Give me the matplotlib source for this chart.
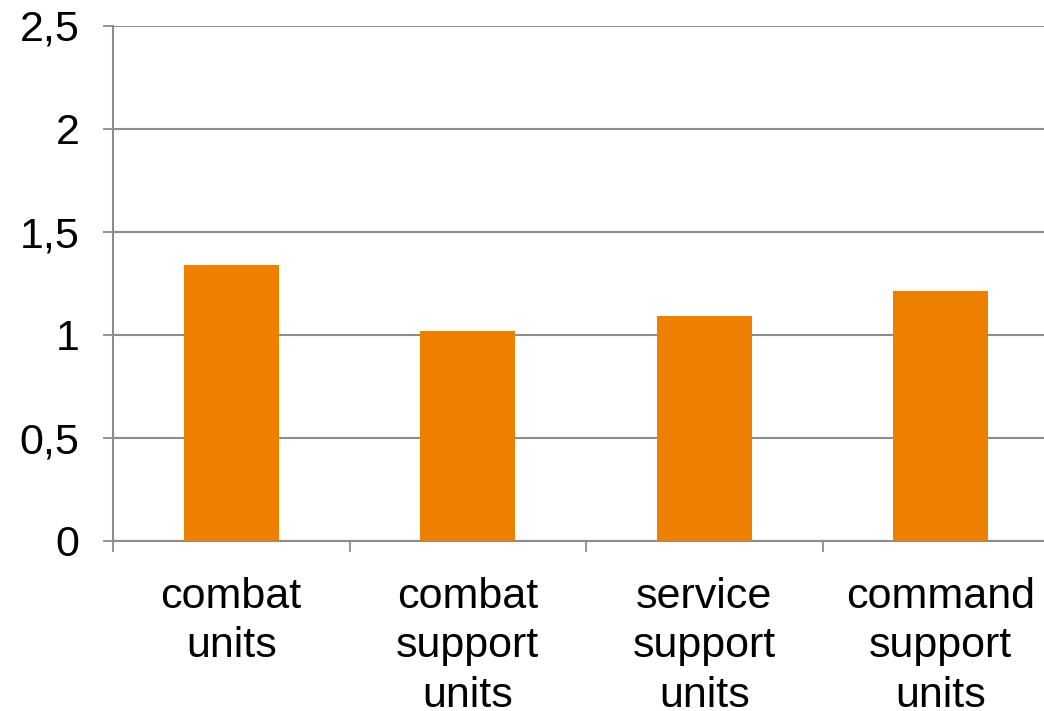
import matplotlib
matplotlib.use("Agg")
import matplotlib.pyplot as plt
from matplotlib.ticker import FuncFormatter

categories = ["combat\nunits", "combat\nsupport\nunits", "service\nsupport\nunits", "command\nsupport\nunits"]
values = [1.34, 1.02, 1.09, 1.21]
y_ticks = [0, 0.5, 1, 1.5, 2, 2.5]

plt.rcParams["font.family"] = ["Liberation Sans", "DejaVu Sans"]

W, H, DPI = 1044, 711, 100
fig = plt.figure(figsize=(W / DPI, H / DPI), dpi=DPI)
left, right, bottom, top = 113, 1059, 541, 25.5
ax = fig.add_axes([left / W, 1 - bottom / H, (right - left) / W, (bottom - top) / H])

x = range(len(values))
ax.bar(x, values, width=0.40, color="#ED8000", zorder=3)

ax.set_xlim(-0.5, len(values) - 0.5)
ax.set_ylim(0, 2.5)
ax.set_yticks(y_ticks)
ax.yaxis.set_major_formatter(FuncFormatter(lambda v, p: (f"{v:g}").replace(".", ",")))
ax.grid(axis="y", color="#8c8c8c", linewidth=1.5, zorder=0)

ax.set_xticks([i - 0.5 for i in range(len(values) + 1)], minor=False)
ax.set_xticklabels([])
ax.set_xticks(list(x), minor=True)
ax.set_xticklabels(categories, minor=True, fontsize=31, linespacing=1.3, va="top")
ax.tick_params(axis="x", which="minor", length=0, pad=26)
ax.tick_params(axis="x", which="major", length=8, width=1.3, color="#8c8c8c", direction="out")
ax.tick_params(axis="y", length=7, width=1.3, color="#8c8c8c", labelsize=31, pad=17)

for side in ["top", "right"]:
    ax.spines[side].set_visible(False)
ax.spines["left"].set_color("#8c8c8c")
ax.spines["left"].set_linewidth(1.5)
ax.spines["bottom"].set_color("#8c8c8c")
ax.spines["bottom"].set_linewidth(1.5)

fig.savefig("out.png", dpi=DPI)
